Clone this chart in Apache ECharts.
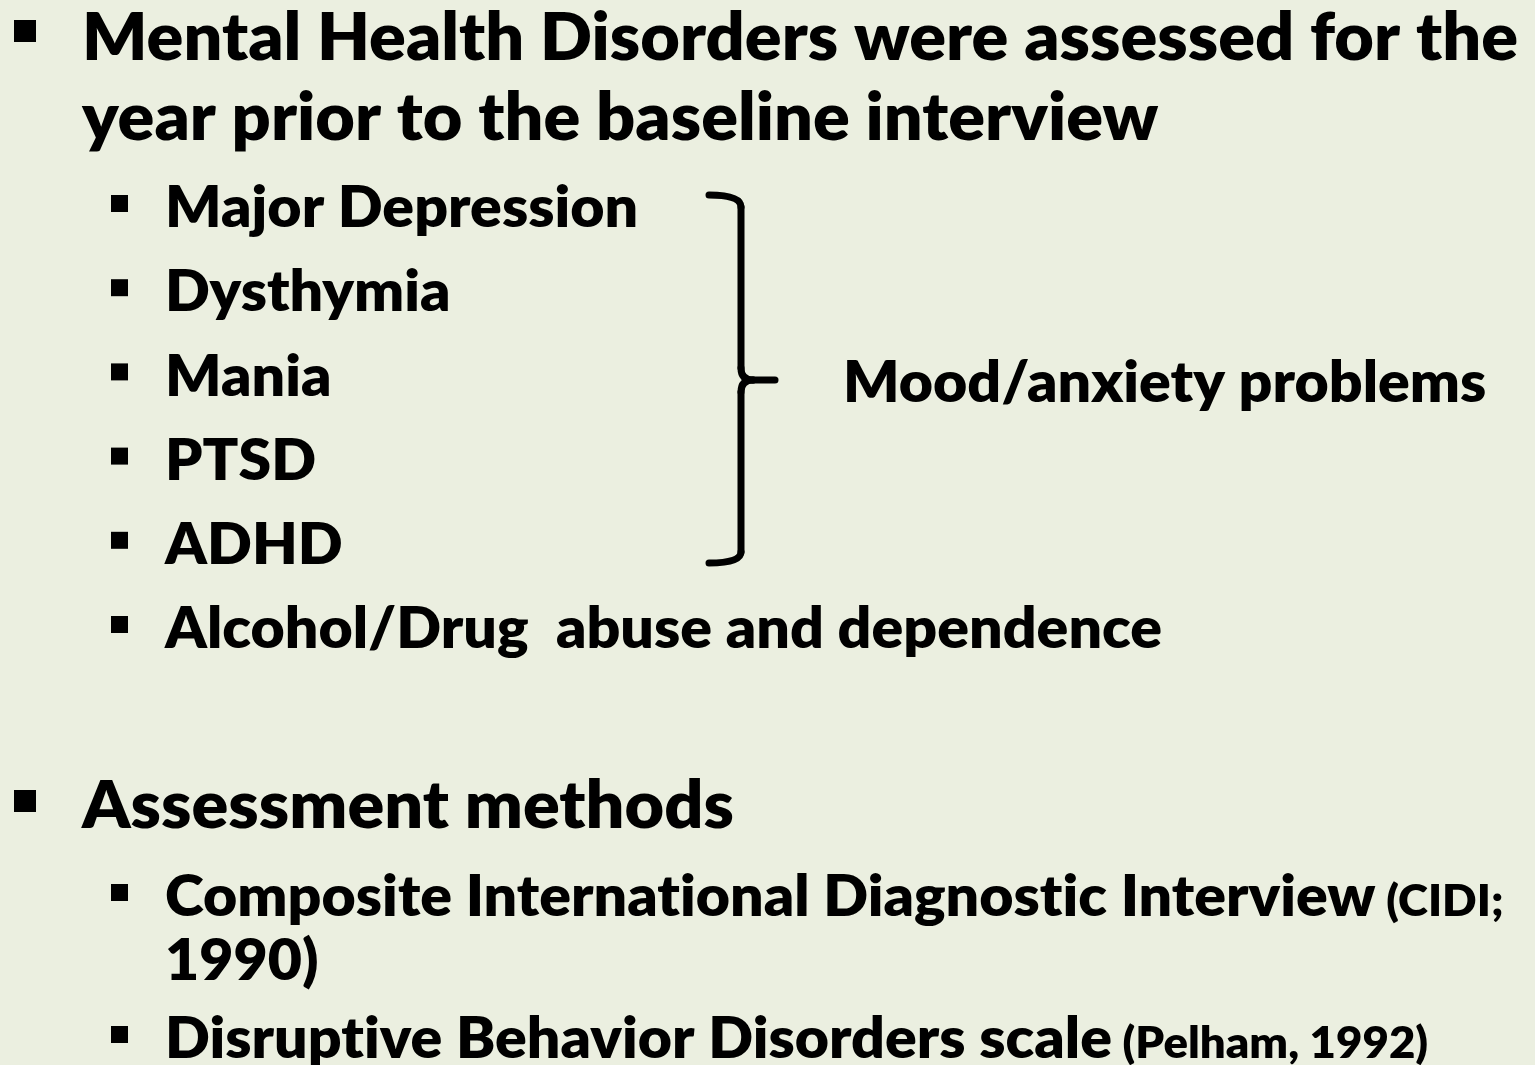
<!DOCTYPE html>
<html>
<head>
<meta charset="utf-8">
<script src="https://cdn.jsdelivr.net/npm/echarts@6/dist/echarts.min.js"></script>
<style>
  html, body { margin: 0; padding: 0; background: #ebefe0; }
  #slide { width: 1535px; height: 1065px; }
</style>
</head>
<body>
<div id="slide"></div>
<script>
"use strict";

// slide text, top to bottom
var titleLines = ['Mental Health Disorders were assessed for the', 'year prior to the baseline interview'];
var disorders = ['Major Depression', 'Dysthymia', 'Mania', 'PTSD', 'ADHD', 'Alcohol/Drug  abuse and dependence'];
var groupLabel = 'Mood/anxiety problems';
var methodsTitle = 'Assessment methods';
var methods = [
    ['Composite International Diagnostic Interview', ' (CIDI;'],
    ['1990)', ''],
    ['Disruptive Behavior Disorders scale', ' (Pelham, 1992)']
];

var FONT = 'Lato';
var WEIGHT = '800';
var BIG = 66, MID = 57, SMALL = 44;

//测量文字宽度，用来把 Lato 压窄到接近原来的 Calibri
var ctx = document.createElement('canvas').getContext('2d');
function fontOf(size) {
    return WEIGHT + ' ' + size + 'px ' + FONT;
}
//Lato 会把 "ti" 连写，插入零宽断字符避免连字
function noLig(str) {
    return str.replace(/t(?=i)/g, 't\u200C');
}
function measure(str, size) {
    ctx.font = fontOf(size);
    return ctx.measureText(noLig(str)).width;
}
var sx = 1436 / measure(titleLines[0], BIG);

function txt(str, x, baseline, size) {
    return {
        type: 'text',
        x: x,
        y: baseline - 0.32 * size,
        scaleX: sx,
        style: {
            text: noLig(str), x: 0, y: 0,
            font: fontOf(size),
            fill: '#000',
            verticalAlign: 'middle'
        }
    };
}

function bullet(x, y, s) {
    return { type: 'rect', shape: { x: x, y: y, width: s, height: s }, style: { fill: '#000' } };
}

var strokeStyle = { stroke: '#000', lineWidth: 7, fill: null, lineCap: 'round' };
function seg(x1, y1, x2, y2) {
    return { type: 'line', shape: { x1: x1, y1: y1, x2: x2, y2: y2 }, style: strokeStyle };
}
function curve(x1, y1, cx, cy, x2, y2) {
    return { type: 'bezierCurve', shape: { x1: x1, y1: y1, cpx1: cx, cpy1: cy, x2: x2, y2: y2 }, style: strokeStyle };
}

var elements = [];

// main bullet 1
elements.push(bullet(14, 20, 22));
titleLines.forEach(function (t, i) {
    elements.push(txt(t, 82, 60 + i * 80, BIG));
});

// disorder list
disorders.forEach(function (t, i) {
    var base = 227 + i * 84.2;
    elements.push(bullet(111, base - 32, 17));
    elements.push(txt(t, 165, base, MID));
});

// bracket
elements.push(curve(709, 195, 741, 195, 741, 207));
elements.push(seg(741, 207, 741, 368));
elements.push(curve(741, 368, 741, 380, 753, 380));
elements.push(seg(753, 380, 775, 380));
elements.push(curve(753, 380, 741, 380, 741, 392));
elements.push(seg(741, 392, 741, 552));
elements.push(curve(741, 552, 741, 563, 709, 563));
elements.push(txt(groupLabel, 843, 402, MID));

// main bullet 2
elements.push(bullet(14, 790, 22));
elements.push(txt(methodsTitle, 82, 828, BIG));

var methodBase = [916, 980, 1058];
methods.forEach(function (m, i) {
    var base = methodBase[i];
    if (i !== 1) elements.push(bullet(111, base - 32, 17));
    elements.push(txt(m[0], 165, base, MID));
    if (m[1]) {
        var w = measure(m[0], MID) * sx;
        elements.push(txt(m[1], 165 + w, base, SMALL));
    }
});

var chart = echarts.init(document.getElementById('slide'));
chart.setOption({
    backgroundColor: '#ebefe0',
    animation: false,
    graphic: { elements: elements }
});
</script>
</body>
</html>
